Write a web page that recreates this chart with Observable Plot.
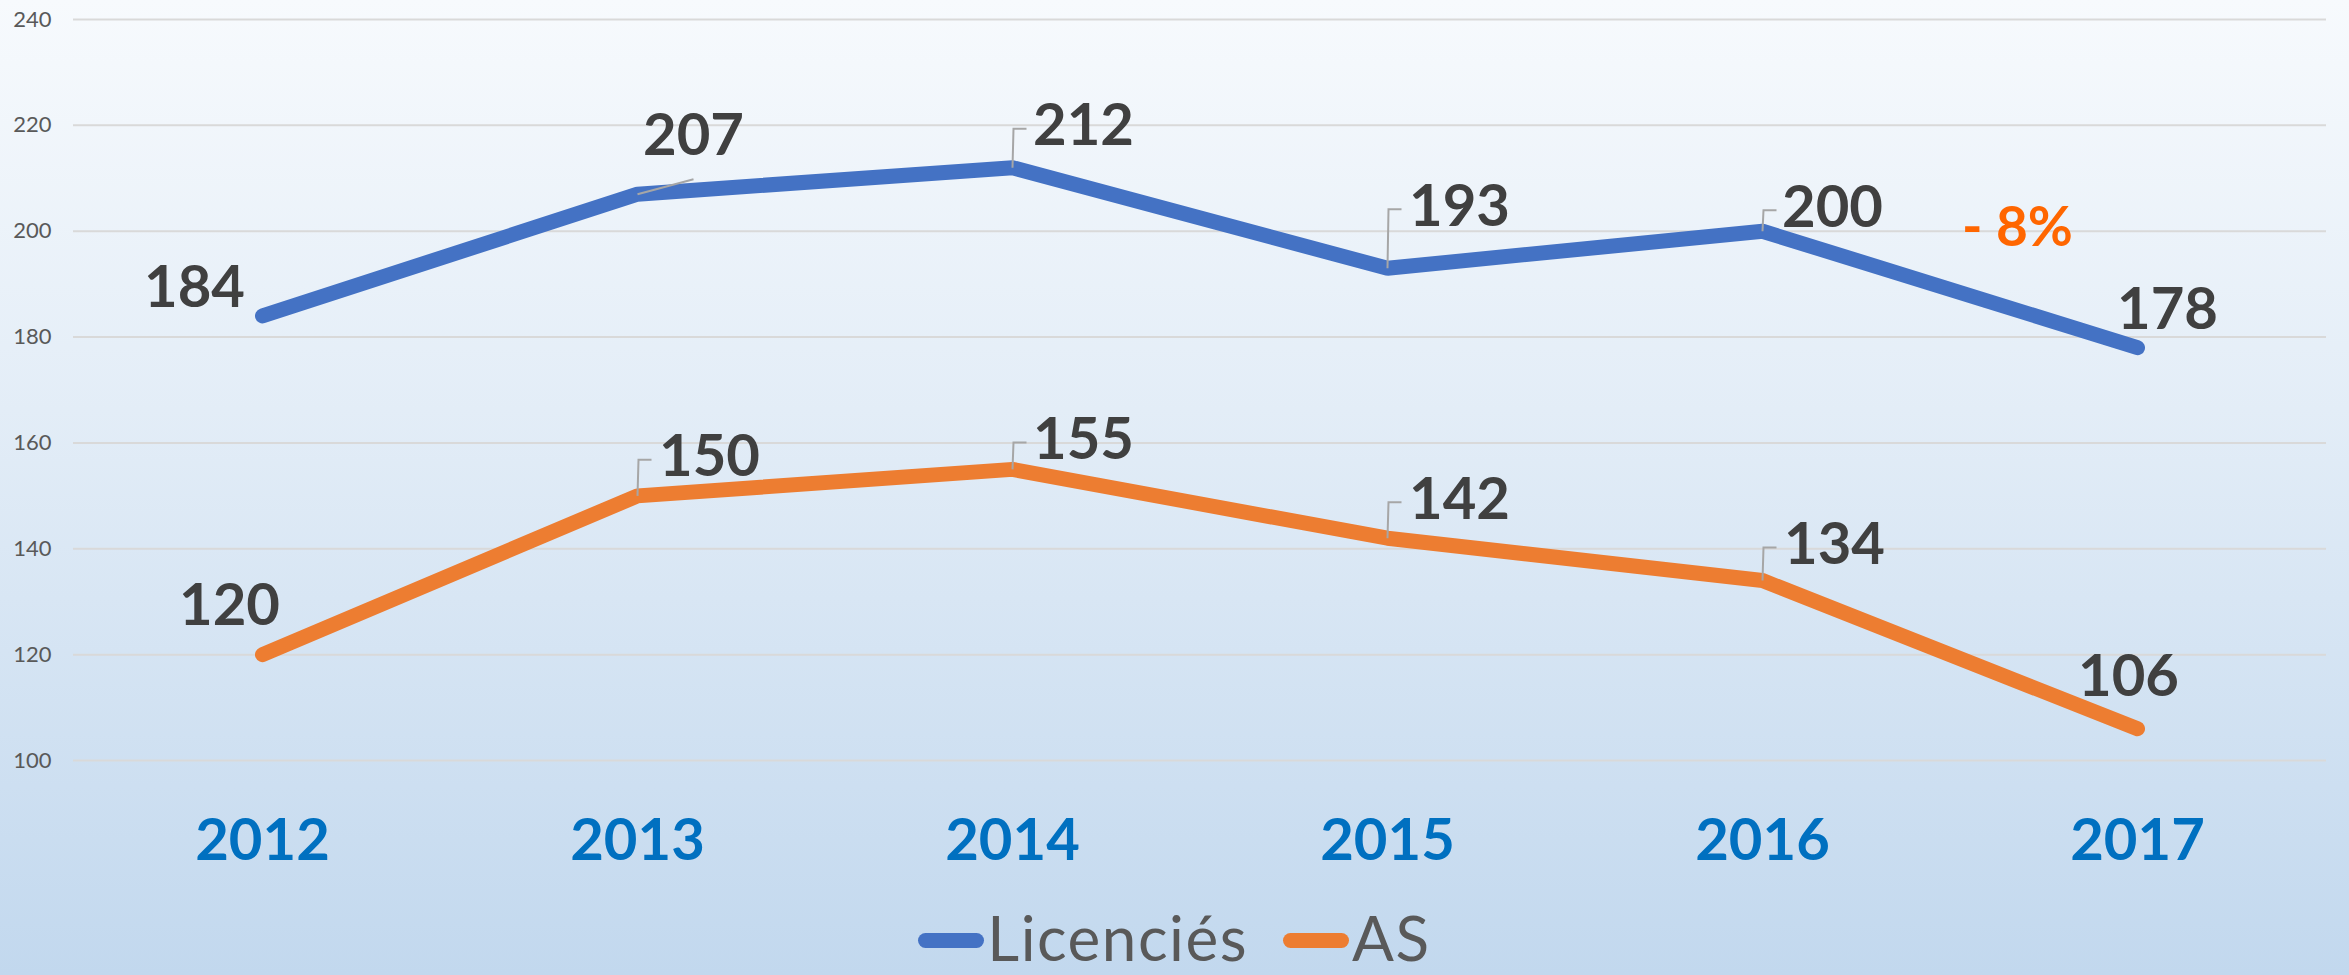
<!DOCTYPE html>
<html><head><meta charset="utf-8">
<script src="https://cdn.jsdelivr.net/npm/d3@7"></script>
<script src="https://cdn.jsdelivr.net/npm/@observablehq/plot@0.6"></script>
<style>
html,body{margin:0;padding:0;}
body{width:2349px;height:975px;overflow:hidden;background:linear-gradient(to bottom,#f7fafd 0%,#e3edf7 42%,#c2d8ee 100%);font-family:Lato,sans-serif;}
#legend{height:95px;display:flex;justify-content:center;align-items:flex-start;padding-top:26px;box-sizing:border-box;}
.item{display:flex;align-items:center;height:62px;}
.item + .item{margin-left:35px;}
.sw{width:66px;height:15px;border-radius:8px;margin-right:3px;position:relative;top:3px;}
.lab{font-size:62px;line-height:62px;color:#595959;letter-spacing:1.5px;}
</style></head>
<body><div id="chart"></div><div id="legend"></div>
<script>
// ---- data ----
const years = [2012, 2013, 2014, 2015, 2016, 2017];
const licencies = [184, 207, 212, 193, 200, 178];
const asValues = [120, 150, 155, 142, 134, 106];
const seriesNames = ["Licenciés", "AS"];
const seriesColors = ["#4472C4", "#ED7D31"];
const yTicks = [100, 120, 140, 160, 180, 200, 220, 240];
const annotation = [{year: 2017, value: 200, text: "- 8%"}];

// ---- label layout (pixel offsets from each point) ----
const labelOffsets = {
  "Licenciés": [[-68, -27], [56, -58], [71, -41], [72, -61], [70, -23], [30, -37]],
  "AS": [[-33, -48], [72, -38], [71, -29], [72, -38], [72, -35], [-9, -51]]
};
const leaderKinds = {
  "Licenciés": ["none", "slant", "bracket", "bracket", "bracket", "none"],
  "AS": ["none", "bracket", "bracket", "bracket", "bracket", "none"]
};
const slantEnd = [56, -15];

const seriesValues = [licencies, asValues];
const data = seriesNames.flatMap((s, k) => years.map((yr, i) => ({series: s, year: yr, value: seriesValues[k][i], i})));

const labelMarks = [];
const leaderMarks = [];
for (const d of data) {
  const [dx, dy] = labelOffsets[d.series][d.i];
  labelMarks.push(Plot.text([d], {
    x: "year", y: "value", text: v => String(v.value), dx, dy,
    fontSize: 58, fontWeight: "bold", fill: "#404040",
    textAnchor: "middle", lineAnchor: "middle"
  }));
  const kind = leaderKinds[d.series][d.i];
  let sym = null;
  if (kind === "bracket") {
    const L = -dy - 2;
    sym = {draw(ctx) { ctx.moveTo(0, 0); ctx.lineTo(1, -L); ctx.lineTo(14, -L); }};
  } else if (kind === "slant") {
    sym = {draw(ctx) { ctx.moveTo(0, 0); ctx.lineTo(slantEnd[0], slantEnd[1]); }};
  }
  if (sym) {
    leaderMarks.push(Plot.dot([d], {
      x: "year", y: "value", symbol: sym, r: 5,
      fill: "none", stroke: "#A6A6A6", strokeWidth: 2
    }));
  }
}

const chart = Plot.plot({
  width: 2349,
  height: 880,
  marginLeft: 73,
  marginRight: 23,
  marginTop: 19,
  marginBottom: 120,
  style: {background: "transparent", fontFamily: "Lato, sans-serif", overflow: "visible"},
  x: {type: "point", domain: years, padding: 0.5, axis: null},
  y: {domain: [100, 240], axis: null},
  color: {domain: seriesNames, range: seriesColors},
  marks: [
    Plot.ruleY(yTicks, {stroke: "#D9D9D9", strokeWidth: 2}),
    Plot.axisY({ticks: yTicks, tickSize: 0, tickPadding: 22, fontSize: 22, color: "#595959", label: null, tickFormat: d => String(d)}),
    Plot.text(years, {x: d => d, frameAnchor: "bottom", dy: 81, lineAnchor: "middle", text: d => String(d),
      fontSize: 58, fontWeight: "bold", fill: "#0070C0"}),
    Plot.line(data, {x: "year", y: "value", z: "series", stroke: "series", strokeWidth: 15,
      strokeLinecap: "round", strokeLinejoin: "miter"}),
    ...leaderMarks,
    ...labelMarks,
    Plot.text(annotation, {x: "year", y: "value", text: "text", dx: -120, dy: -3, lineAnchor: "middle",
      fontSize: 55, fontWeight: "bold", fill: "#FF6600"})
  ]
});
document.getElementById("chart").appendChild(chart);

const legend = document.getElementById("legend");
seriesNames.forEach((s, k) => {
  const item = document.createElement("div");
  item.className = "item";
  const sw = document.createElement("span");
  sw.className = "sw";
  sw.style.background = seriesColors[k];
  const lab = document.createElement("span");
  lab.className = "lab";
  lab.textContent = s;
  item.appendChild(sw);
  item.appendChild(lab);
  legend.appendChild(item);
});
</script>
</body></html>
